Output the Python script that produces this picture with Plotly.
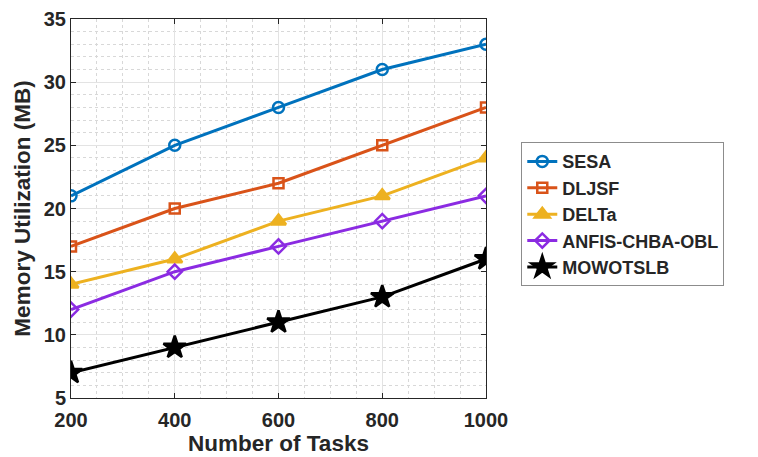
import plotly.graph_objects as go

tasks = [200, 400, 600, 800, 1000]
sesa = [21, 25, 28, 31, 33]
dljsf = [17, 20, 22, 25, 28]
delta = [14, 16, 19, 21, 24]
anfis = [12, 15, 17, 19, 21]
mowotslb = [7, 9, 11, 13, 16]
yticks = [5, 10, 15, 20, 25, 30, 35]

names = ["SESA", "DLJSF", "DELTa", "ANFIS-CHBA-OBL", "MOWOTSLB"]
series = [sesa, dljsf, delta, anfis, mowotslb]
colors = ["#0072BD", "#D95319", "#EDB120", "#8B2BE2", "#000000"]
symbols = ["circle-open", "square-open", "triangle-up", "diamond-open", "star"]
sizes = [11, 10, 13, 11, 17]

FONT = "Liberation Sans, Arial"
TXT = "#262626"

fig = go.Figure()
for n, s, c, sym, sz in zip(names, series, colors, symbols, sizes):
    fig.add_trace(go.Scatter(
        x=tasks, y=s, name="<b>" + n + "</b>", mode="lines+markers",
        line=dict(color=c, width=3),
        marker=dict(symbol=sym, size=sz, color=c, line=dict(color=c, width=2.5)),
    ))

axis_common = dict(
    showline=True, linecolor="#262626", linewidth=1, mirror="ticks",
    ticks="inside", ticklen=5, tickcolor="#262626",
    showgrid=True, gridcolor="#e3e3e3", gridwidth=1,
    zeroline=False, automargin=False,
    tickfont=dict(family=FONT, size=20, color=TXT),
)

fig.update_xaxes(
    range=[200, 1000], tickvals=tasks, ticktext=["<b>%d</b>" % t for t in tasks],
    ticklabelstandoff=4,
    title=dict(text="<b>Number of Tasks</b>", font=dict(family=FONT, size=22.5, color=TXT), standoff=4),
    minor=dict(dtick=50, tick0=0, showgrid=True, gridcolor="#d8d8d8", griddash="dot", gridwidth=1, ticks=""),
    **axis_common,
)
fig.update_yaxes(
    range=[5, 35], tickvals=yticks, ticktext=["<b>%d</b>" % t for t in yticks],
    title=dict(text="<b>Memory Utilization (MB)</b>", font=dict(family=FONT, size=22.5, color=TXT), standoff=6),
    minor=dict(dtick=1, tick0=0, showgrid=True, gridcolor="#d8d8d8", griddash="dot", gridwidth=1, ticks=""),
    **axis_common,
)

fig.update_layout(
    width=758, height=457,
    margin=dict(l=71, r=272, t=19, b=59),
    plot_bgcolor="white", paper_bgcolor="white",
    showlegend=True,
    legend=dict(
        x=1.085, y=0.675, xanchor="left", yanchor="top",
        bordercolor="#8c8c8c", borderwidth=1, bgcolor="white",
        font=dict(family=FONT, size=18, color=TXT),
        tracegroupgap=0, itemsizing="trace",
    ),
)

fig.write_html("out.html")
